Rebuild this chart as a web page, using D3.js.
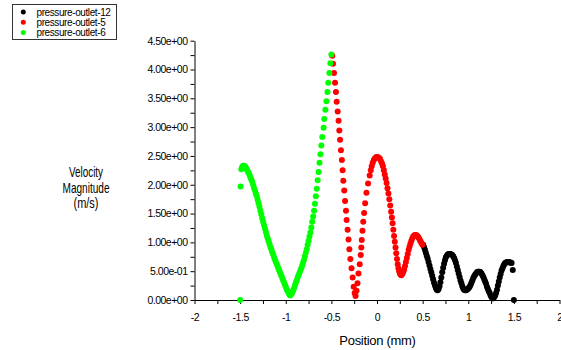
<!DOCTYPE html>
<html>
<head>
<meta charset="utf-8">
<script src="https://cdn.jsdelivr.net/npm/d3@7"></script>
<style>
  html, body { margin: 0; padding: 0; background: #fff; }
  svg { display: block; font-family: "Liberation Sans", Arial, sans-serif; }
</style>
</head>
<body>
<div id="chart"></div>
<script>
// Velocity magnitude vs position, three pressure outlets

var seriesNames = ['pressure-outlet-12', 'pressure-outlet-5', 'pressure-outlet-6'];
var seriesColors = ['#000000', '#ff0000', '#00ff00'];

var xTicks = [-2, -1.5, -1, -0.5, 0, 0.5, 1, 1.5, 2];
var xTickLabels = ['-2', '-1.5', '-1', '-0.5', '0', '0.5', '1', '1.5', '2'];
var yTicks = [0, 0.5, 1, 1.5, 2, 2.5, 3, 3.5, 4, 4.5];
var yTickLabels = ['0.00e+00', '5.00e-01', '1.00e+00', '1.50e+00', '2.00e+00',
  '2.50e+00', '3.00e+00', '3.50e+00', '4.00e+00', '4.50e+00'];

// pressure-outlet-12 (black)
var outlet12Pos = [0.505, 0.515, 0.525, 0.535, 0.545, 0.555, 0.565, 0.575, 0.585, 0.595,
  0.605, 0.615, 0.625, 0.635, 0.645, 0.655, 0.665, 0.675, 0.685, 0.695,
  0.705, 0.715, 0.725, 0.735, 0.745, 0.755, 0.765, 0.775, 0.785, 0.795,
  0.805, 0.815, 0.825, 0.835, 0.845, 0.855, 0.865, 0.875, 0.885, 0.895,
  0.905, 0.915, 0.925, 0.935, 0.945, 0.955, 0.965, 0.975, 0.985, 0.995,
  1.005, 1.015, 1.025, 1.035, 1.045, 1.055, 1.065, 1.075, 1.085, 1.095,
  1.105, 1.115, 1.125, 1.135, 1.145, 1.155, 1.165, 1.175, 1.185, 1.195,
  1.205, 1.215, 1.225, 1.235, 1.245, 1.255, 1.265, 1.275, 1.285, 1.295,
  1.305, 1.315, 1.325, 1.335, 1.345, 1.355, 1.365, 1.375, 1.385, 1.395,
  1.405, 1.415, 1.425, 1.435, 1.445, 1.455, 1.465, 1.475, 1.488, 1.500];
var outlet12Vel = [0.96, 0.92, 0.87, 0.82, 0.77, 0.72, 0.66, 0.60, 0.54, 0.48,
  0.42, 0.36, 0.30, 0.25, 0.21, 0.18, 0.17, 0.19, 0.24, 0.31,
  0.39, 0.48, 0.56, 0.63, 0.69, 0.74, 0.77, 0.79, 0.80, 0.80,
  0.80, 0.79, 0.78, 0.76, 0.73, 0.69, 0.64, 0.58, 0.52, 0.46,
  0.40, 0.34, 0.29, 0.24, 0.20, 0.18, 0.17, 0.17, 0.18, 0.19,
  0.21, 0.23, 0.26, 0.30, 0.34, 0.38, 0.41, 0.44, 0.46, 0.48,
  0.49, 0.49, 0.49, 0.48, 0.46, 0.43, 0.40, 0.36, 0.32, 0.28,
  0.23, 0.19, 0.15, 0.12, 0.08, 0.05, 0.03, 0.03, 0.05, 0.08,
  0.12, 0.18, 0.25, 0.32, 0.39, 0.45, 0.51, 0.55, 0.59, 0.62,
  0.64, 0.65, 0.66, 0.66, 0.66, 0.65, 0.65, 0.64, 0.52, 0.00];

// pressure-outlet-5 (red)
var outlet5Pos = [-0.490, -0.482, -0.471, -0.460, -0.450, -0.442, -0.431, -0.421, -0.413, -0.405,
  -0.395, -0.385, -0.377, -0.369, -0.359, -0.350, -0.340, -0.333, -0.322, -0.312,
  -0.303, -0.292, -0.279, -0.267, -0.256, -0.245, -0.235, -0.224, -0.214, -0.203,
  -0.189, -0.178, -0.172, -0.167, -0.159, -0.151, -0.141, -0.130, -0.116, -0.098,
  -0.080, -0.068, -0.058, -0.047, -0.035, -0.022, -0.008, 0.006, 0.020, 0.032,
  0.044, 0.055, 0.065, 0.075, 0.085, 0.095, 0.105, 0.115, 0.125, 0.135,
  0.145, 0.155, 0.163, 0.171, 0.179, 0.187, 0.195, 0.203, 0.211, 0.219,
  0.227, 0.235, 0.243, 0.251, 0.259, 0.267, 0.277, 0.287, 0.297, 0.307,
  0.317, 0.327, 0.337, 0.347, 0.357, 0.367, 0.377, 0.387, 0.397, 0.407,
  0.417, 0.427, 0.437, 0.447, 0.457, 0.467, 0.477, 0.487, 0.497];
var outlet5Vel = [4.24, 4.10, 3.94, 3.77, 3.61, 3.44, 3.27, 3.11, 2.94, 2.78,
  2.60, 2.43, 2.25, 2.07, 1.90, 1.72, 1.55, 1.39, 1.22, 1.05,
  0.88, 0.71, 0.55, 0.39, 0.23, 0.12, 0.07, 0.16, 0.29, 0.46,
  0.62, 0.78, 0.91, 1.04, 1.20, 1.36, 1.51, 1.68, 1.86, 2.02,
  2.16, 2.25, 2.32, 2.38, 2.43, 2.46, 2.48, 2.48, 2.47, 2.45,
  2.41, 2.37, 2.32, 2.25, 2.18, 2.11, 2.03, 1.94, 1.85, 1.75,
  1.64, 1.53, 1.43, 1.33, 1.22, 1.11, 1.01, 0.91, 0.81, 0.71,
  0.62, 0.55, 0.50, 0.46, 0.44, 0.43, 0.45, 0.48, 0.53, 0.59,
  0.66, 0.73, 0.80, 0.87, 0.93, 0.98, 1.03, 1.07, 1.10, 1.12,
  1.13, 1.13, 1.12, 1.10, 1.08, 1.05, 1.02, 0.99, 0.96];

// pressure-outlet-6 (green)
var outlet6Pos = [-1.500, -1.495, -1.487, -1.478, -1.468, -1.458, -1.448, -1.438, -1.428, -1.418,
  -1.408, -1.398, -1.388, -1.378, -1.368, -1.358, -1.348, -1.338, -1.328, -1.318,
  -1.308, -1.298, -1.288, -1.278, -1.268, -1.258, -1.248, -1.238, -1.228, -1.218,
  -1.208, -1.198, -1.188, -1.178, -1.168, -1.158, -1.148, -1.138, -1.128, -1.118,
  -1.108, -1.098, -1.088, -1.078, -1.068, -1.058, -1.048, -1.038, -1.028, -1.018,
  -1.008, -0.998, -0.988, -0.978, -0.968, -0.958, -0.950, -0.940, -0.930, -0.920,
  -0.910, -0.900, -0.890, -0.880, -0.870, -0.860, -0.850, -0.840, -0.830, -0.820,
  -0.810, -0.800, -0.790, -0.780, -0.770, -0.760, -0.750, -0.740, -0.730, -0.720,
  -0.710, -0.700, -0.690, -0.680, -0.670, -0.660, -0.650, -0.640, -0.630, -0.620,
  -0.610, -0.600, -0.585, -0.578, -0.566, -0.554, -0.543, -0.534, -0.522, -0.511, -0.500];
var outlet6Vel = [0.00, 1.97, 2.27, 2.31, 2.33, 2.33, 2.32, 2.30, 2.27, 2.24,
  2.21, 2.18, 2.13, 2.09, 2.05, 2.00, 1.95, 1.90, 1.85, 1.80,
  1.74, 1.68, 1.62, 1.55, 1.49, 1.42, 1.36, 1.30, 1.24, 1.18,
  1.12, 1.07, 1.02, 0.97, 0.92, 0.88, 0.83, 0.79, 0.74, 0.70,
  0.66, 0.62, 0.58, 0.54, 0.50, 0.46, 0.42, 0.38, 0.34, 0.30,
  0.26, 0.22, 0.18, 0.15, 0.12, 0.09, 0.08, 0.10, 0.12, 0.16,
  0.20, 0.25, 0.30, 0.34, 0.39, 0.43, 0.47, 0.51, 0.55, 0.60,
  0.65, 0.70, 0.76, 0.82, 0.88, 0.96, 1.03, 1.10, 1.17, 1.26,
  1.36, 1.45, 1.55, 1.67, 1.80, 1.93, 2.08, 2.22, 2.38, 2.53,
  2.68, 2.83, 2.99, 3.14, 3.30, 3.45, 3.61, 3.77, 3.94, 4.11, 4.26];

var seriesPos = [outlet12Pos, outlet5Pos, outlet6Pos];
var seriesVel = [outlet12Vel, outlet5Vel, outlet6Vel];

var W = 561, H = 350;
var plot = { left: 194.5, right: 559.5, top: 40.7, bottom: 300 };

var svg = d3.select('#chart').append('svg')
  .attr('width', W).attr('height', H);

var x = d3.scaleLinear().domain([-2, 2]).range([plot.left, plot.right]);
var y = d3.scaleLinear().domain([0, 4.5]).range([plot.bottom, plot.top]);

// X axis with minor ticks every 0.25
var xAxis = svg.append('g')
  .attr('transform', 'translate(0,' + plot.bottom + ')')
  .call(d3.axisBottom(x).tickValues(d3.range(-2, 2.001, 0.25))
    .tickSize(4).tickSizeOuter(0)
    .tickFormat(function(d) {
      var i = xTicks.indexOf(+d.toFixed(2));
      return i >= 0 ? xTickLabels[i] : '';
    }));
xAxis.selectAll('text')
  .attr('y', 14)
  .style('font-size', '10.5px')
  .style('letter-spacing', '-0.4px')
  .attr('fill', '#000');

// Y axis with minor ticks every 0.25
var yAxis = svg.append('g')
  .attr('transform', 'translate(' + plot.left + ',0)')
  .call(d3.axisLeft(y).tickValues(d3.range(0, 4.501, 0.25))
    .tickSize(4).tickSizeOuter(0)
    .tickFormat(function(d) {
      var i = yTicks.indexOf(+d.toFixed(2));
      return i >= 0 ? yTickLabels[i] : '';
    }));
yAxis.selectAll('text')
  .attr('x', -7)
  .style('font-size', '10.5px')
  .style('letter-spacing', '-0.5px')
  .attr('fill', '#000');

svg.selectAll('.domain, .tick line').attr('stroke', '#000').attr('stroke-width', 1);

// Data points
seriesNames.forEach(function(name, s) {
  var pts = seriesPos[s].map(function(p, i) { return { pos: p, vel: seriesVel[s][i] }; });
  svg.append('g').selectAll('circle')
    .data(pts)
    .enter().append('circle')
    .attr('cx', function(d) { return x(d.pos); })
    .attr('cy', function(d) { return y(d.vel); })
    .attr('r', 3)
    .attr('fill', seriesColors[s]);
});

// Axis titles
svg.append('text')
  .attr('x', (plot.left + plot.right) / 2 + 0.5)
  .attr('y', 345)
  .attr('text-anchor', 'middle')
  .style('font-size', '13px')
  .style('letter-spacing', '-0.3px')
  .text('Position (mm)');

var yTitle = [['Velocity', 177, 34], ['Magnitude', 192.5, 47], ['(m/s)', 208, 25]];
yTitle.forEach(function(t) {
  svg.append('text')
    .attr('x', 86 - t[2] / 2)
    .attr('y', t[1])
    .attr('textLength', t[2])
    .attr('lengthAdjust', 'spacingAndGlyphs')
    .style('font-size', '15px')
    .text(t[0]);
});

// Legend
var legend = svg.append('g');
legend.append('rect')
  .attr('x', 12.5).attr('y', 4.5)
  .attr('width', 104).attr('height', 35)
  .attr('fill', '#fff')
  .attr('stroke', '#333')
  .attr('stroke-width', 1);
seriesNames.forEach(function(name, s) {
  var ly = 12 + s * 10.2;
  legend.append('circle')
    .attr('cx', 23.3).attr('cy', ly)
    .attr('r', 2.5)
    .attr('fill', seriesColors[s]);
  legend.append('text')
    .attr('x', 36.5).attr('y', ly + 3.8)
    .style('font-size', '10px')
    .style('letter-spacing', '-0.4px')
    .text(name);
});
</script>
</body>
</html>
